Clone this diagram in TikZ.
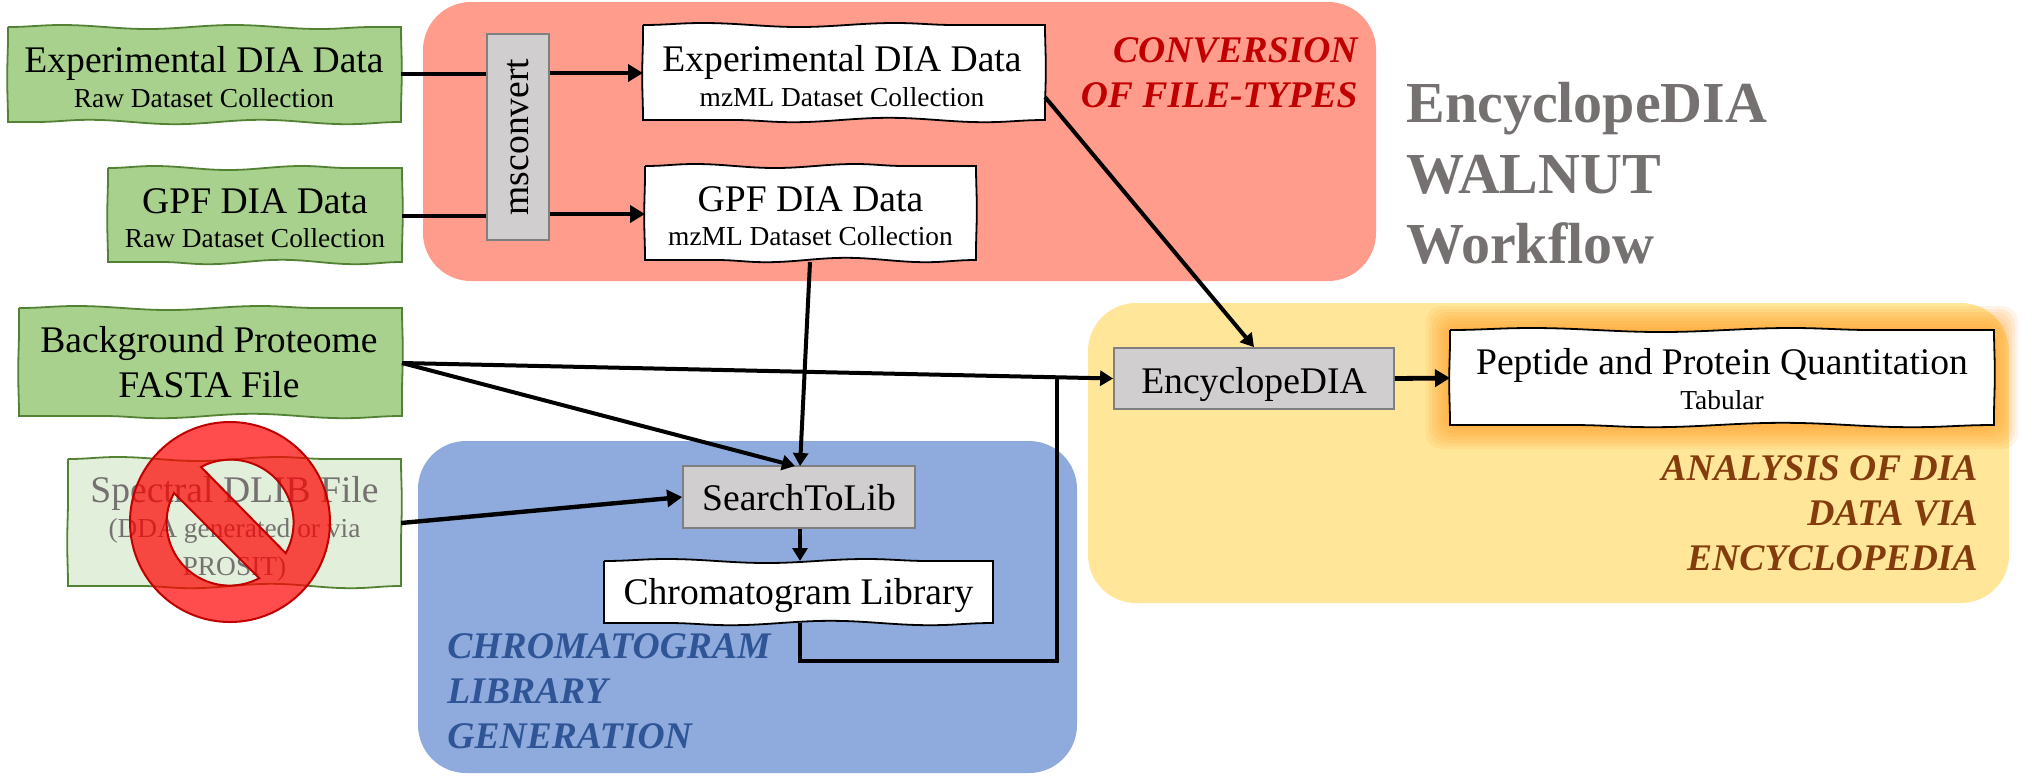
\documentclass[tikz,border=0pt]{standalone}
\usepackage{fontspec}
\setmainfont{Liberation Serif}
\usetikzlibrary{arrows.meta,decorations.pathmorphing,calc}
\definecolor{regred}{HTML}{FF9C8C}
\definecolor{regblue}{HTML}{8FAADC}
\definecolor{regyellow}{HTML}{FFE699}
\definecolor{inputgreen}{HTML}{A9D18E}
\definecolor{inputedge}{HTML}{548235}
\definecolor{palegreen}{HTML}{E2EFDA}
\definecolor{toolgray}{HTML}{D0CECE}
\definecolor{tooledge}{HTML}{7F7F7F}
\definecolor{graytext}{HTML}{767171}
\definecolor{darkred}{HTML}{C00000}
\definecolor{darkblue}{HTML}{2F5597}
\definecolor{darkbrown}{HTML}{843C0C}
\definecolor{glow}{HTML}{FF9A20}
\newcommand{\mainsz}{\fontsize{18.8}{19}\selectfont}
% wavy outlined box: style, x0, y0, x1, y1, wave length
\newcommand{\wavybox}[6]{%
  \path[#1] (#2,#3)
    decorate[decoration={snake,segment length=#6,amplitude=1pt}] {-- (#4,#3)}
    decorate[decoration={snake,segment length=70pt,amplitude=0.4pt}] {-- (#4,#5)}
    decorate[decoration={snake,segment length=#6,amplitude=1.1pt}] {-- (#2,#5)}
    decorate[decoration={snake,segment length=70pt,amplitude=0.4pt}] {-- cycle};
}
\tikzset{
  x=0.5pt,y=-0.5pt,
  inputshape/.style={draw=inputedge,fill=inputgreen,line width=0.9pt},
  paleshape/.style={draw=inputedge,fill=palegreen,line width=0.9pt},
  datashape/.style={draw=black,fill=white,line width=0.9pt},
  boxtext/.style={align=center,inner sep=0pt,font=\fontsize{13.7}{19}\selectfont},
  toolbox/.style={draw=tooledge,fill=toolgray,line width=0.9pt,align=center,inner sep=0pt,font=\mainsz},
  conn/.style={draw=black,line width=2.4pt},
  flow/.style={conn,-{Triangle[length=7.5pt,width=8.5pt]}},
  thin flow/.style={flow,line width=2pt,-{Triangle[length=6.5pt,width=7.5pt]}},
  reglabel/.style={inner sep=0pt,align=#1,font=\fontsize{18.8}{22.5}\selectfont\bfseries\itshape},
  title/.style={inner sep=0pt,anchor=base west,text=graytext,font=\fontsize{29}{34}\selectfont\bfseries},
}
\begin{document}
\begin{tikzpicture}
\useasboundingbox (0,0) rectangle (2033,783);
% regions
\fill[regred,rounded corners=24pt] (423,2) rectangle (1376,281);
\fill[regblue,rounded corners=24pt] (418,441) rectangle (1077,773);
\fill[regyellow,rounded corners=24pt] (1088,303) rectangle (2009,603);
% glow
\foreach \g in {24,21,18,15,12,9,6,3}{
  \fill[glow,fill opacity=0.11,rounded corners=8pt] (1450-\g,330-\g) rectangle (1994+\g,425+\g);
}
% boxes
\wavybox{inputshape}{8}{27}{401}{122}{86pt}
\wavybox{inputshape}{108}{168}{402}{262}{74pt}
\wavybox{inputshape}{19}{308}{402}{416}{92pt}
\wavybox{paleshape}{68}{459}{401}{586}{80pt}
\wavybox{datashape}{643}{25}{1045}{120}{96pt}
\wavybox{datashape}{645}{166}{976}{260}{80pt}
\wavybox{datashape}{604}{561}{993}{623}{100pt}
\wavybox{datashape}{1450}{330}{1994}{425}{130pt}
% nodes
\node[boxtext] (expraw) at (204,77) {\mainsz Experimental DIA Data\\[-1.7pt]Raw Dataset Collection};
\node[boxtext] (gpfraw) at (255,218) {\mainsz GPF DIA Data\\[-1.7pt]Raw Dataset Collection};
\node[boxtext,font=\fontsize{18.8}{22.5}\selectfont] (bg) at (209,362.5) {Background Proteome\\FASTA File};
\node[boxtext,text=graytext] (spec) at (234.5,529) {\mainsz Spectral DLIB File\\[-1.7pt](DDA generated or via\\PROSIT)};
\node[toolbox,minimum width=31pt,minimum height=103pt] (ms) at (518,137) {};
\node[rotate=90,inner sep=0pt,font=\mainsz] (mslabel) at (ms.center) {msconvert};
\node[boxtext] (expmz) at (842,76) {\mainsz Experimental DIA Data\\[-1.7pt]mzML Dataset Collection};
\node[boxtext] (gpfmz) at (810.5,216) {\mainsz GPF DIA Data\\[-1.7pt]mzML Dataset Collection};
\node[toolbox,minimum width=116pt,minimum height=31pt,text height=14.5pt,text depth=1.5pt] (search) at (799,497) {SearchToLib};
\node[boxtext,font=\mainsz] (chrom) at (798.5,595) {Chromatogram Library};
\node[toolbox,minimum width=140pt,minimum height=30.5pt,text height=15pt,text depth=0pt] (enc) at (1254,378.5) {EncyclopeDIA};
\node[boxtext] (quant) at (1722,379) {\mainsz Peptide and Protein Quantitation\\[-1.7pt]Tabular};
% labels
\node[reglabel=right,anchor=north east,text=darkred] (lconv) at (1358,37) {CONVERSION\\OF FILE-TYPES};
\node[reglabel=left,anchor=north west,text=darkblue] (lchrom) at (447,633) {CHROMATOGRAM\\LIBRARY\\GENERATION};
\node[reglabel=right,anchor=north east,text=darkbrown] (lana) at (1978,455) {ANALYSIS OF DIA\\DATA VIA\\ENCYCLOPEDIA};
\node[title] (t1) at (1406,122) {EncyclopeDIA};
\node[title] (t2) at (1406,193) {WALNUT};
\node[title] (t3) at (1406,263) {Workflow};
% anchors for connectors
\coordinate (exprawout) at (401,74);
\coordinate (expmzin) at (643,73);
\coordinate (gpfrawout) at (402,216);
\coordinate (gpfmzin) at (645,214);
\coordinate (bgout) at (402,363);
\coordinate (specout) at (401,523);
\coordinate (gpfout) at (810,262);
\coordinate (searchina) at (795,466);
\coordinate (searchinb) at (800,466);
\coordinate (expout) at (1045,97);
\coordinate (chromturn) at (1057,661);
\coordinate (chromup) at (1057,378);
\coordinate (chromout) at (800,623);
\coordinate (chromin) at (800,561);
\coordinate (quantin) at (1450,378);
% connectors
\draw[conn] (exprawout) -- (exprawout -| ms.west);
\draw[flow] (expmzin -| ms.east) -- (expmzin);
\draw[conn] (gpfrawout) -- (gpfrawout -| ms.west);
\draw[flow] (gpfmzin -| ms.east) -- (gpfmzin);
\draw[thin flow] (gpfout) -- (searchinb);
\draw[thin flow] (bgout) -- (searchina);
\draw[thin flow] (bgout) -- (enc.west);
\draw[flow,line width=2.2pt] (specout) -- (search.west);
\draw[thin flow,line width=1.7pt] (search.south -| chromin) -- (chromin);
\draw[conn,line width=2pt] (chromout) -- (chromout |- chromturn) -- (chromturn) -- (chromup);
\draw[thin flow] (expout) -- (enc.north);
\draw[flow] (enc.east) -- (quantin);
% prohibition sign
\path[fill=red,fill opacity=0.7,draw=darkred,line width=1pt,even odd rule]
  (230,522) circle[radius=100]
  (201,467) arc[start angle=-118,end angle=29,radius=63] -- cycle
  (174,493) arc[start angle=-152,end angle=-298,radius=63] -- cycle;
\end{tikzpicture}
\end{document}
